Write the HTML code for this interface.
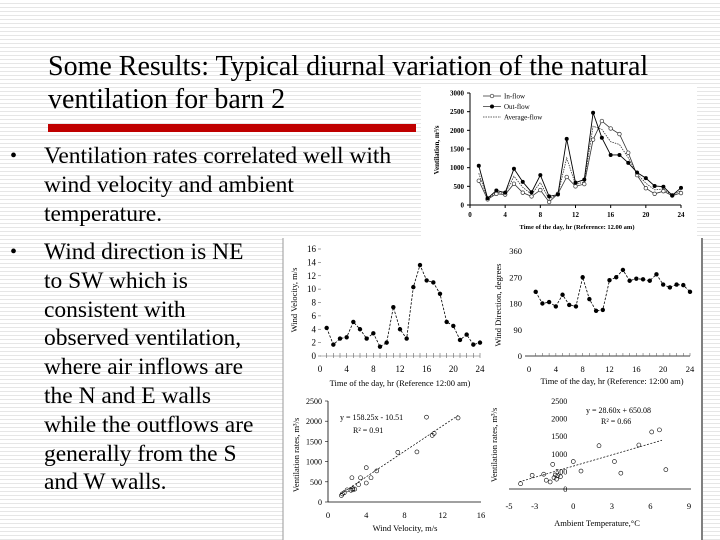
<!DOCTYPE html>
<html><head><meta charset="utf-8"><style>
html,body{margin:0;padding:0}
body{width:720px;height:540px;overflow:hidden;position:relative;font-family:"Liberation Serif",serif;
background:repeating-linear-gradient(to bottom,#ffffff 0,#ffffff 3px,#e6e6e6 3px,#e6e6e6 4px)}
.t{position:absolute;left:48px;font-size:28px;line-height:33px;color:#000;white-space:nowrap}
.b{position:absolute;font-size:23.5px;line-height:28.8px;color:#000;white-space:nowrap}
.dot{position:absolute;left:10px;font-size:20px;line-height:28.8px;color:#000}
svg{position:absolute;left:0;top:0}
</style></head><body>
<div class="t" style="top:50px">Some Results: Typical diurnal variation of the natural<br>ventilation for barn 2</div>
<div style="position:absolute;left:48px;top:124px;width:368px;height:8px;background:#c00000"></div>
<div class="dot" style="top:142px">•</div>
<div class="b" style="left:44px;top:142px">Ventilation rates correlated well with<br>wind velocity and ambient<br>temperature.</div>
<div class="dot" style="top:238px">•</div>
<div class="b" style="left:44px;top:238px">Wind direction is NE<br>to SW which is<br>consistent with<br>observed ventilation,<br>where air inflows are<br>the N and E walls<br>while the outflows are<br>generally from the S<br>and W walls.</div>
<svg id="s" width="720" height="540" font-family="Liberation Serif, serif">
<rect x="421" y="84" width="276" height="152" fill="#fff"/>
<rect x="283" y="238" width="420" height="302" fill="#fff"/>
<line x1="702" y1="238" x2="702" y2="540" stroke="#000" stroke-width="1"/>
<line x1="283" y1="238" x2="283" y2="540" stroke="#999" stroke-width="1"/>
<g id="g"></g>
</svg>
<script>
const hours=[1,2,3,4,5,6,7,8,9,10,11,12,13,14,15,16,17,18,19,20,21,22,23,24];
const inflow=[650,150,300,280,570,330,230,400,80,300,750,500,560,1750,2250,2050,1900,1400,800,450,300,370,250,320];
const outflow=[1050,180,390,330,970,620,340,800,230,280,1770,600,680,2470,1800,1340,1340,1130,870,720,510,490,260,460];
const avgflow=[850,165,345,305,770,475,285,600,155,290,1260,550,620,2110,2025,1695,1620,1265,835,585,405,430,255,390];
const windVel=[4.2,1.7,2.6,2.8,5.1,4.0,2.6,3.4,1.4,2.0,7.3,4.0,2.6,10.3,13.6,11.3,11.0,9.3,5.1,4.5,2.4,3.2,1.7,2.0];
const windDir=[220,180,185,170,210,175,170,270,195,155,158,260,270,295,258,265,263,258,280,245,235,245,243,220];
const velX=[1.4,1.7,1.5,2.0,2.4,2.6,2.6,2.5,2.8,3.2,3.4,4.0,4.0,4.5,5.1,7.3,9.3,10.3,10.9,11.1,13.6];
const velY=[160,230,200,300,290,330,300,600,320,430,600,470,850,600,770,1230,1240,2100,1650,1700,2080];
const tmpX=[-4.1,-3.2,-2.1,-2.3,-1.8,-1.5,-1.4,-1.3,-1.2,-1.0,-1.6,0.0,0.6,2.0,3.2,3.7,5.1,6.1,6.7,7.2];
const tmpY=[150,390,250,420,200,320,400,280,380,350,700,780,510,1230,780,450,1250,1620,1680,550];
const ventTicks=[0,500,1000,1500,2000,2500,3000];
const hourTicks=[0,4,8,12,16,20,24];
const velTicks=[0,2,4,6,8,10,12,14,16];
const dirTicks=[0,90,180,270,360];
const scTicksY=[0,500,1000,1500,2000,2500];
const velScTicks=[0,4,8,12,16];
const tmpTicks=[-5,-3,0,3,6,9];

const NS="http://www.w3.org/2000/svg";
const G=document.getElementById('g');
function el(t,a,p){const e=document.createElementNS(NS,t);for(const k in a)e.setAttribute(k,a[k]);(p||G).appendChild(e);return e;}
function sc(d0,d1,r0,r1){return v=>r0+(v-d0)/(d1-d0)*(r1-r0);}
function txt(x,y,s,size,anchor,rot){const e=el('text',{x:x,y:y,'font-size':size,'text-anchor':anchor||'middle'});if(rot)e.setAttribute('transform','rotate(-90 '+x+' '+y+')');e.textContent=s;return e;}

// Chart 1: ventilation
{const x=sc(0,24,470,681),y=sc(0,3000,205,93);
let a=el('line',{x1:470,y1:205,x2:681,y2:205,stroke:'#000'});
a=el('line',{x1:470,y1:93,x2:470,y2:205,stroke:'#000'});
ventTicks.forEach(v=>{el('line',{x1:467,y1:y(v),x2:470,y2:y(v),stroke:'#000'});let t=txt(464,y(v)+2.5,v,7,'end');t.setAttribute('font-weight','bold');});
hourTicks.forEach(v=>{el('line',{x1:x(v),y1:205,x2:x(v),y2:208,stroke:'#000'});let t=txt(x(v),217,v,7);t.setAttribute('font-weight','bold');});
let t=txt(577,229,'Time of the day, hr (Reference: 12.00 am)',6.5);t.setAttribute('font-weight','bold');
t=txt(439,150,'Ventilation, m³/s',7,'middle',true);t.setAttribute('font-weight','bold');
const pts=arr=>hours.map((h,i)=>x(h)+','+y(arr[i])).join(' ');
let l=el('polyline',{points:pts(avgflow),fill:'none',stroke:'#333','stroke-width':0.8,'stroke-dasharray':'1.5,1'});
l=el('polyline',{points:pts(inflow),fill:'none',stroke:'#333','stroke-width':0.8});
l=el('polyline',{points:pts(outflow),fill:'none',stroke:'#000','stroke-width':0.9});
hours.forEach((h,i)=>{let c=el('circle',{cx:x(h),cy:y(inflow[i]),r:1.8,fill:'#fff',stroke:'#333','stroke-width':0.7});
c=el('circle',{cx:x(h),cy:y(outflow[i]),r:2,fill:'#000'});});
const lg=[['In-flow',''],['Out-flow',''],['Average-flow','1.5,1']];
lg.forEach((d,i)=>{const yy=96+i*10.5;el('line',{x1:483,y1:yy,x2:501,y2:yy,stroke:'#333','stroke-width':0.8,'stroke-dasharray':d[1]||'none'});
if(i==0)el('circle',{cx:492,cy:yy,r:1.8,fill:'#fff',stroke:'#333','stroke-width':0.7});if(i==1)el('circle',{cx:492,cy:yy,r:2,fill:'#000'});
let t=txt(504,yy+2.5,d[0],7,'start');});}

// Chart 2: wind velocity
{const x=sc(0,24,320,480),y=sc(0,16,356,249);
let a=el('line',{x1:320,y1:356,x2:480,y2:356,stroke:'#666','stroke-width':0.6});
hours.forEach(h=>el('line',{x1:x(h),y1:353,x2:x(h),y2:358,stroke:'#666','stroke-width':0.6}));
velTicks.forEach(v=>{let t=txt(316,y(v)+3,v,9,'end');el('line',{x1:318,y1:y(v),x2:321,y2:y(v),stroke:'#666','stroke-width':0.6});});
hourTicks.forEach(v=>{let t=txt(x(v),372,v,9);});
let t=txt(400,386,'Time of the day, hr (Reference 12:00 am)',8.5);
t=txt(297,300,'Wind Velocity, m/s',8.5,'middle',true);
let l=el('polyline',{points:hours.map((h,i)=>x(h)+','+y(windVel[i])).join(' '),fill:'none',stroke:'#000','stroke-width':0.8,'stroke-dasharray':'2.5,1.5'});
hours.forEach((h,i)=>{let c=el('circle',{cx:x(h),cy:y(windVel[i]),r:2.2,fill:'#000'});});}

// Chart 3: wind direction
{const x=sc(0,24,529,690),y=sc(0,360,356,251);
let a=el('line',{x1:525,y1:356,x2:690,y2:356,stroke:'#000','stroke-width':0.8});
hours.forEach(h=>el('line',{x1:x(h),y1:353,x2:x(h),y2:356,stroke:'#666','stroke-width':0.6}));
dirTicks.forEach(v=>{let t=txt(522,y(v)+3,v,8.5,'end');});
hourTicks.forEach(v=>{let t=txt(x(v),372,v,8.5);});
let t=txt(612,384,'Time of the day, hr (Reference: 12:00 am)',8.5);
t=txt(501,305,'Wind Direction, degrees',8.5,'middle',true);
let l=el('polyline',{points:hours.map((h,i)=>x(h)+','+y(windDir[i])).join(' '),fill:'none',stroke:'#000','stroke-width':0.8,'stroke-dasharray':'2.5,1.5'});
hours.forEach((h,i)=>{let c=el('circle',{cx:x(h),cy:y(windDir[i]),r:2.2,fill:'#000'});});}

// Chart 4: ventilation vs wind velocity
{const x=sc(0,16,328,481),y=sc(0,2500,502,401);
let a=el('line',{x1:328,y1:502,x2:481,y2:502,stroke:'#000','stroke-width':0.8});
a=el('line',{x1:328,y1:401,x2:328,y2:502,stroke:'#000','stroke-width':0.8});
scTicksY.forEach(v=>{el('line',{x1:325,y1:y(v),x2:328,y2:y(v),stroke:'#000','stroke-width':0.6});let t=txt(322,y(v)+3,v,8,'end');});
velScTicks.forEach(v=>{let t=txt(x(v),518,v,8.5);});
let t=txt(405,531,'Wind Velocity, m/s',8.5);
t=txt(299,455,'Ventilation rates, m³/s',8.5,'middle',true);
const f=v=>158.25*v-10.51;
let l=el('line',{x1:x(1.3),y1:y(f(1.3)),x2:x(13.6),y2:y(f(13.6)),stroke:'#000','stroke-width':0.7,'stroke-dasharray':'2,1.5'});
velX.forEach((v,i)=>{let c=el('circle',{cx:x(v),cy:y(velY[i]),r:2,fill:'none',stroke:'#000','stroke-width':0.6});});
t=txt(340,420,'y = 158.25x - 10.51',8,'start');
t=txt(353,433,'R² = 0.91',8,'start');}

// Chart 5: ventilation vs ambient temperature
{const x=sc(-5,9,509,689),y=sc(0,2500,489,401);
let a=el('line',{x1:509,y1:489,x2:691,y2:489,stroke:'#000','stroke-width':0.8});
scTicksY.forEach(v=>{let t=txt(x(0)-6,y(v)+3,v,8,'end');});
tmpTicks.forEach(v=>{let t=txt(x(v),509,v,8.5);});
let t=txt(597,526,'Ambient Temperature,°C',8.5);
t=txt(497,445,'Ventilation rates, m³/s',8.5,'middle',true);
const f=v=>650.08+106.5*v;
let l=el('line',{x1:x(-4.2),y1:y(f(-4.2)),x2:x(6.9),y2:y(f(6.9)),stroke:'#000','stroke-width':0.7,'stroke-dasharray':'2,1.5'});
tmpX.forEach((v,i)=>{let c=el('circle',{cx:x(v),cy:y(tmpY[i]),r:2,fill:'none',stroke:'#000','stroke-width':0.6});});
t=txt(586,413,'y = 28.60x + 650.08',8,'start');
t=txt(601,424,'R² = 0.66',8,'start');}
</script>
</body></html>
